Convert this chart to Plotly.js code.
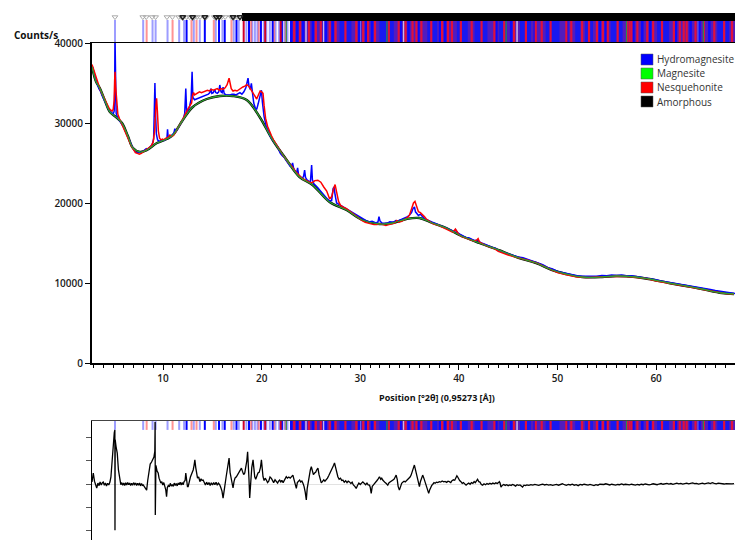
<!DOCTYPE html>
<html><head><meta charset="utf-8">
<script src="https://cdn.plot.ly/plotly-3.0.1.min.js"></script>
<style>html,body{margin:0;padding:0;background:#fff}#chart{width:735px;height:540px}</style>
</head><body><div id="chart"></div>
<script>
// ---------- data ----------
const backgroundPts = [[2.80,37000],[3.20,35200],[3.61,34300],[4.12,32750],[4.62,31375],[5.23,30750],[5.84,30000],[6.44,28375],[6.95,26875],[7.66,26375],[8.37,26625],[9.38,27500],[10.39,28000],[11.00,28500],[12.01,30375],[13.02,32000],[14.44,33000],[15.76,33375],[17.07,33375],[18.49,32875],[19.80,30750],[21.12,27875],[22.54,25375],[23.85,23250],[25.17,22250],[26.89,20125],[28.61,19125],[30.23,17875],[31.95,17375],[33.27,17500],[34.68,18000],[36.00,18125],[37.31,17500],[38.73,16875],[40.05,16000],[42.07,15000],[43.79,14250],[44.40,13950],[46.12,13125],[47.84,12500],[49.46,11625],[50.88,11125],[52.50,10750],[54.52,10750],[55.94,10875],[57.96,10750],[59.28,10500],[61.30,10000],[63.02,9625],[64.64,9250],[66.67,8750],[67.90,8625]];

const hydroPts = [[2.80,37100],[2.90,36800],[3.05,36100],[3.20,35300],[3.35,34800],[3.50,34300],[3.65,34000],[3.80,33500],[3.95,33100],[4.10,32800],[4.25,32400],[4.40,31900],[4.55,31600],[4.70,31400],[4.85,31200],[4.95,31100],[5.05,31500],[5.10,34000],[5.13,41000],[5.17,34000],[5.25,31200],[5.40,30700],[5.55,30400],[5.70,30100],[5.85,29900],[6.00,29500],[6.20,28900],[6.40,28300],[6.60,27700],[6.80,27100],[7.00,26700],[7.20,26400],[7.40,26250],[7.60,26350],[7.80,26300],[8.00,26450],[8.15,26700],[8.30,26800],[8.45,26700],[8.60,26900],[8.75,27000],[8.90,27300],[9.05,28000],[9.12,30500],[9.18,35000],[9.25,31000],[9.33,28600],[9.45,27900],[9.60,27700],[9.80,27800],[9.95,27900],[10.10,27800],[10.30,28000],[10.40,28100],[10.46,29200],[10.52,28300],[10.70,28200],[10.90,28400],[11.10,28700],[11.20,29300],[11.30,28900],[11.50,29300],[11.70,29700],[11.90,30100],[12.05,30500],[12.20,31200],[12.31,34300],[12.40,31300],[12.55,31600],[12.70,32100],[12.85,33000],[12.95,36400],[13.03,33200],[13.20,32900],[13.40,33000],[13.60,33100],[13.80,33200],[14.00,33300],[14.20,33350],[14.40,33500],[14.60,33600],[14.75,33800],[14.85,34300],[14.95,33700],[15.10,33800],[15.25,34200],[15.35,33800],[15.50,33700],[15.65,33900],[15.76,34750],[15.88,33900],[16.00,33800],[16.09,34500],[16.20,33700],[16.40,33500],[16.60,33500],[16.80,33500],[17.00,33600],[17.20,33600],[17.40,33500],[17.60,33700],[17.80,33800],[18.00,33600],[18.20,33900],[18.40,34400],[18.52,35000],[18.62,35600],[18.72,34600],[18.85,34200],[18.96,34950],[19.08,33300],[19.20,32500],[19.35,31900],[19.50,31700],[19.65,32400],[19.80,33300],[19.90,33700],[19.98,34100],[20.08,32600],[20.25,30800],[20.45,29700],[20.65,29000],[20.85,28400],[21.05,28000],[21.25,27600],[21.45,27300],[21.60,27100],[21.75,26600],[21.90,26200],[22.10,25900],[22.30,25700],[22.50,25300],[22.70,25000],[22.90,24600],[23.05,24700],[23.14,25000],[23.25,24300],[23.40,23900],[23.55,23800],[23.65,24400],[23.75,23500],[23.95,23200],[24.10,23100],[24.25,23300],[24.36,24100],[24.45,23200],[24.60,22900],[24.80,22700],[24.95,22700],[25.07,24750],[25.15,22900],[25.30,22400],[25.50,22200],[25.70,21900],[25.90,21600],[26.10,21300],[26.30,21000],[26.50,20700],[26.70,20450],[26.90,20250],[27.10,20300],[27.25,21800],[27.35,22000],[27.45,21000],[27.60,20000],[27.80,19850],[28.00,19700],[28.20,19550],[28.40,19400],[28.60,19250],[28.80,19100],[29.00,18950],[29.20,18800],[29.40,18650],[29.60,18500],[29.80,18350],[30.00,18200],[30.20,18000],[30.40,17850],[30.60,17800],[30.80,17700],[31.00,17650],[31.20,17700],[31.40,17550],[31.60,17500],[31.80,17650],[31.90,18300],[32.00,17750],[32.20,17500],[32.40,17450],[32.60,17450],[32.80,17500],[33.00,17650],[33.20,17600],[33.40,17600],[33.60,17800],[33.80,17700],[34.00,17850],[34.20,17950],[34.40,18000],[34.60,18150],[34.80,18300],[35.00,18500],[35.20,18800],[35.35,19300],[35.50,19500],[35.60,18900],[35.75,18600],[35.90,18450],[36.10,18600],[36.30,18300],[36.50,18050],[36.70,17950],[36.90,17800],[37.10,17700],[37.30,17600],[37.50,17500],[37.70,17400],[37.90,17300],[38.10,17200],[38.30,17150],[38.50,17050],[38.70,16950],[38.90,16850],[39.10,16700],[39.30,16550],[39.50,16450],[39.70,16600],[39.90,16250],[40.10,16100],[40.40,15900],[40.70,15700],[41.00,15650],[41.30,15450],[41.60,15300],[41.90,15350],[42.20,15050],[42.50,14900],[42.80,14700],[43.10,14600],[43.40,14450],[43.70,14350],[44.00,14050],[44.50,13850],[45.00,13600],[45.50,13450],[46.00,13250],[46.50,13150],[47.00,12950],[47.50,12750],[48.00,12550],[48.50,12300],[49.00,11950],[49.50,11750],[50.00,11450],[50.50,11300],[51.00,11150],[51.50,11000],[52.00,10900],[52.50,10850],[53.00,10850],[53.50,10900],[54.00,10850],[54.50,10950],[55.00,10900],[55.50,11000],[56.00,10950],[56.50,11000],[57.00,10900],[57.50,10900],[58.00,10800],[58.50,10750],[59.00,10650],[59.50,10550],[60.00,10400],[60.50,10250],[61.00,10150],[61.50,10050],[62.00,9950],[62.50,9850],[63.00,9750],[63.50,9650],[64.00,9500],[64.50,9400],[65.00,9300],[65.50,9200],[66.00,9050],[66.50,8950],[67.00,8850],[67.50,8750],[68.00,8700]];

const nesqPts = [[2.80,37300],[2.90,36900],[3.05,36300],[3.20,35600],[3.35,35000],[3.50,34500],[3.65,34100],[3.80,33700],[3.95,33300],[4.10,32900],[4.25,32500],[4.40,32100],[4.55,31800],[4.70,31600],[4.85,31500],[4.95,31700],[5.05,32800],[5.10,35400],[5.14,36400],[5.20,34500],[5.30,32200],[5.42,31100],[5.60,30500],[5.80,29900],[6.00,29400],[6.20,28800],[6.40,28200],[6.60,27600],[6.80,27100],[7.00,26700],[7.20,26300],[7.40,26200],[7.60,26100],[7.80,26200],[8.00,26400],[8.20,26600],[8.40,26700],[8.60,26900],[8.80,27100],[9.00,27600],[9.15,29000],[9.27,32000],[9.35,33100],[9.43,31500],[9.53,29000],[9.65,28100],[9.80,27900],[9.95,28000],[10.10,27900],[10.30,28100],[10.50,28200],[10.70,28500],[10.90,28300],[11.10,28500],[11.30,28900],[11.50,29300],[11.70,29800],[11.90,30200],[12.10,30700],[12.30,31300],[12.50,31700],[12.70,32100],[12.90,32500],[13.00,33500],[13.10,33800],[13.20,33500],[13.35,33600],[13.50,33700],[13.70,33900],[13.90,33800],[14.10,33900],[14.30,34000],[14.50,34100],[14.70,34000],[14.90,34200],[15.10,34100],[15.30,34200],[15.50,34300],[15.70,34100],[15.90,34300],[16.10,34200],[16.30,34400],[16.50,34800],[16.62,35400],[16.70,35600],[16.80,35000],[16.92,34300],[17.10,34000],[17.30,34100],[17.50,34000],[17.70,34200],[17.90,34300],[18.10,34500],[18.30,34600],[18.50,34800],[18.70,34600],[18.90,34200],[19.10,33800],[19.30,33300],[19.50,33000],[19.70,33600],[19.85,34000],[20.00,33900],[20.14,33700],[20.25,32200],[20.40,30600],[20.60,29600],[20.80,28900],[21.00,28400],[21.20,27900],[21.40,27500],[21.60,27000],[21.80,26600],[22.00,26200],[22.20,25900],[22.40,25600],[22.60,25200],[22.80,24900],[23.00,24700],[23.20,24300],[23.40,24000],[23.60,23700],[23.80,23400],[24.00,23200],[24.20,23000],[24.40,22900],[24.60,22800],[24.80,22600],[25.00,22500],[25.20,22600],[25.40,22800],[25.70,22850],[26.00,22600],[26.30,22000],[26.60,21500],[26.90,20500],[27.10,20800],[27.30,21800],[27.45,22300],[27.60,21400],[27.80,20200],[28.00,19700],[28.20,19500],[28.40,19400],[28.60,19300],[28.80,19100],[29.00,18900],[29.30,18600],[29.60,18300],[29.90,18000],[30.20,17800],[30.50,17600],[30.80,17500],[31.10,17400],[31.40,17300],[31.70,17300],[32.00,17400],[32.30,17300],[32.60,17200],[32.90,17300],[33.20,17400],[33.50,17500],[33.70,17800],[33.90,17600],[34.20,17700],[34.50,17900],[34.80,18200],[35.00,18500],[35.20,19200],[35.40,20000],[35.55,20200],[35.70,19600],[35.90,18900],[36.10,18800],[36.30,18600],[36.50,18300],[36.70,18000],[37.00,17700],[37.30,17450],[37.60,17300],[37.90,17250],[38.20,17050],[38.50,16900],[38.80,16750],[39.10,16550],[39.40,16350],[39.65,16750],[39.80,16450],[40.00,16050],[40.30,15800],[40.60,15650],[40.90,15500],[41.20,15350],[41.50,15250],[41.80,15350],[41.95,15550],[42.10,15100],[42.40,14850],[42.70,14700],[43.00,14550],[43.30,14450],[43.60,14300],[44.00,13950],[45.00,13500],[46.00,13150],[47.00,12850],[48.00,12450],[49.00,11850],[50.00,11300],[51.00,11000],[52.00,10750],[53.00,10700],[54.00,10750],[55.00,10800],[56.00,10850],[57.00,10800],[58.00,10700],[59.00,10550],[60.00,10250],[61.00,10000],[62.00,9800],[63.00,9600],[64.00,9350],[65.00,9100],[66.00,8900],[67.00,8700],[67.90,8580]];

const diffPts = [[2.80,85],[2.93,470],[3.05,120],[3.15,-60],[3.28,-170],[3.40,40],[3.52,-70],[3.62,90],[3.74,-40],[3.85,60],[3.94,85],[4.05,-50],[4.16,40],[4.27,-80],[4.38,30],[4.50,-40],[4.62,85],[4.72,300],[4.80,800],[4.89,1450],[4.98,1900],[5.06,2200],[5.12,2310],[5.13,-1970],[5.15,1900],[5.24,1600],[5.36,1320],[5.48,600],[5.58,250],[5.63,170],[5.72,-30],[5.82,60],[5.92,-50],[6.02,40],[6.12,-60],[6.22,50],[6.32,-40],[6.42,60],[6.52,-30],[6.62,40],[6.72,-60],[6.82,30],[6.92,-50],[7.02,60],[7.12,-20],[7.22,40],[7.32,-60],[7.42,30],[7.52,-50],[7.62,40],[7.72,-80],[7.82,20],[7.92,-60],[7.99,-40],[8.10,-120],[8.22,-200],[8.34,-260],[8.45,150],[8.58,600],[8.70,850],[8.84,940],[8.96,1050],[9.08,1150],[9.17,1400],[9.20,2650],[9.22,-1320],[9.28,800],[9.40,550],[9.51,470],[9.60,250],[9.68,170],[9.78,40],[9.88,100],[9.98,-40],[10.08,60],[10.18,-100],[10.28,-250],[10.36,-540],[10.44,-150],[10.54,-60],[10.64,-120],[10.74,30],[10.84,-90],[10.94,-20],[11.04,-100],[11.14,40],[11.24,-60],[11.34,20],[11.44,-80],[11.54,40],[11.64,-30],[11.74,80],[11.84,-40],[11.94,60],[12.04,-30],[12.14,100],[12.24,150],[12.31,470],[12.40,60],[12.48,-110],[12.55,-110],[12.65,100],[12.78,300],[12.92,450],[13.06,600],[13.15,800],[13.23,1030],[13.32,700],[13.40,385],[13.50,250],[13.62,300],[13.74,100],[13.86,220],[13.96,150],[14.07,170],[14.18,60],[14.30,-40],[14.42,80],[14.54,-30],[14.66,60],[14.78,-60],[14.90,50],[15.02,-40],[15.14,60],[15.26,-30],[15.38,70],[15.50,-50],[15.62,40],[15.74,-20],[15.86,-150],[15.98,-300],[16.09,-600],[16.18,-200],[16.26,-110],[16.40,300],[16.55,700],[16.62,900],[16.70,1110],[16.80,500],[16.94,100],[17.02,50],[17.10,-170],[17.20,100],[17.30,250],[17.44,310],[17.55,400],[17.68,450],[17.80,550],[17.95,680],[18.05,550],[18.18,400],[18.29,470],[18.40,700],[18.50,1000],[18.58,1380],[18.66,900],[18.72,200],[18.79,-600],[18.88,200],[19.00,700],[19.13,1030],[19.22,600],[19.30,310],[19.40,200],[19.50,350],[19.63,470],[19.75,500],[19.88,700],[19.98,1030],[20.06,600],[20.14,310],[20.25,150],[20.36,250],[20.48,170],[20.60,60],[20.72,120],[20.85,300],[20.99,240],[21.10,120],[21.22,60],[21.36,180],[21.49,100],[21.62,40],[21.72,120],[21.83,170],[21.95,90],[22.05,160],[22.18,60],[22.30,140],[22.40,200],[22.50,310],[22.62,250],[22.76,300],[22.90,250],[23.05,320],[23.17,380],[23.28,200],[23.40,40],[23.52,-190],[23.62,60],[23.74,120],[23.85,170],[23.96,90],[24.08,130],[24.18,40],[24.30,-100],[24.42,-350],[24.53,-680],[24.62,-200],[24.72,100],[24.84,400],[24.94,600],[25.04,740],[25.14,550],[25.25,400],[25.37,470],[25.48,500],[25.58,600],[25.71,680],[25.82,400],[25.93,150],[26.05,50],[26.16,100],[26.30,180],[26.42,120],[26.55,170],[26.68,250],[26.80,350],[26.92,450],[27.05,550],[27.18,650],[27.30,800],[27.39,900],[27.48,700],[27.60,450],[27.73,310],[27.86,200],[28.00,250],[28.12,150],[28.24,170],[28.38,80],[28.52,140],[28.66,60],[28.78,120],[28.91,90],[29.05,20],[29.18,80],[29.30,-40],[29.45,-100],[29.59,-190],[29.72,-60],[29.86,40],[30.00,-20],[30.13,60],[30.26,90],[30.40,30],[30.55,-30],[30.68,40],[30.80,-40],[30.94,-50],[31.02,-150],[31.11,-400],[31.22,-100],[31.34,-40],[31.44,30],[31.56,100],[31.70,150],[31.82,220],[31.95,310],[32.08,200],[32.18,250],[32.28,170],[32.40,100],[32.52,60],[32.64,20],[32.79,-50],[32.92,60],[33.05,100],[33.18,130],[33.30,170],[33.42,200],[33.52,280],[33.64,380],[33.75,200],[33.84,-100],[33.97,-260],[34.08,-100],[34.20,30],[34.31,80],[34.44,120],[34.56,90],[34.70,150],[34.81,170],[34.94,250],[35.05,300],[35.16,380],[35.28,500],[35.40,700],[35.49,810],[35.58,650],[35.66,530],[35.76,250],[35.86,60],[36.00,-110],[36.10,100],[36.22,250],[36.33,380],[36.45,250],[36.52,150],[36.60,100],[36.70,-50],[36.80,-200],[36.94,-400],[37.04,-250],[37.16,-100],[37.25,-60],[37.34,-20],[37.48,60],[37.60,30],[37.72,80],[37.86,60],[38.02,100],[38.16,80],[38.30,130],[38.46,90],[38.60,110],[38.76,70],[38.90,120],[39.03,100],[39.18,60],[39.30,140],[39.45,180],[39.58,160],[39.71,240],[39.80,350],[39.87,310],[39.96,200],[40.08,150],[40.21,100],[40.34,30],[40.46,60],[40.60,-20],[40.73,-50],[40.86,0],[41.00,40],[41.14,-10],[41.28,60],[41.42,30],[41.55,110],[41.66,60],[41.78,150],[41.90,200],[42.02,100],[42.14,80],[42.28,-20],[42.41,-50],[42.55,10],[42.70,-30],[42.85,20],[43.00,-10],[43.15,30],[43.30,0],[43.45,40],[43.60,10],[43.75,50],[43.90,20],[44.02,60],[44.10,100],[44.18,40],[44.27,-130],[44.40,-60],[44.55,-20],[44.70,-60],[44.85,-30],[45.00,-70],[45.15,-40],[45.30,-60],[45.45,-20],[45.60,-50],[45.75,-90],[45.90,-30],[46.05,-60],[46.20,-40],[46.35,-80],[46.46,-130],[46.60,-50],[46.75,-70],[46.90,-40],[47.10,-60],[47.30,-30],[47.50,-50],[47.70,-20],[47.90,-40],[48.10,-60],[48.30,-30],[48.50,-10],[48.70,-40],[48.90,-20],[49.10,-50],[49.30,-30],[49.50,-60],[49.70,-40],[49.90,-20],[50.10,-50],[50.30,-30],[50.50,10],[50.70,-30],[50.90,-60],[51.10,-20],[51.30,-40],[51.50,-10],[51.70,-50],[51.90,-30],[52.10,-70],[52.30,-20],[52.50,-40],[52.70,-10],[52.90,-30],[53.10,-50],[53.30,-20],[53.50,-40],[53.70,-70],[53.90,-30],[54.10,-50],[54.30,-10],[54.50,-30],[54.70,-20],[54.90,10],[55.10,-20],[55.30,-40],[55.50,-10],[55.70,-30],[55.90,-50],[56.10,-20],[56.30,-30],[56.50,0],[56.70,-30],[56.90,-10],[57.10,-20],[57.30,-40],[57.50,-10],[57.70,-30],[57.90,-50],[58.10,-20],[58.30,-40],[58.50,-10],[58.70,-30],[58.90,0],[59.10,-20],[59.30,-40],[59.50,-20],[59.70,10],[59.90,-10],[60.10,-30],[60.30,0],[60.50,20],[60.70,-10],[60.90,10],[61.10,30],[61.30,0],[61.50,20],[61.70,-10],[61.90,10],[62.10,40],[62.30,10],[62.50,30],[62.70,0],[62.90,20],[63.10,40],[63.30,10],[63.50,30],[63.70,50],[63.90,20],[64.10,30],[64.30,0],[64.50,20],[64.70,40],[64.90,10],[65.10,30],[65.30,50],[65.50,20],[65.70,60],[65.90,30],[66.10,10],[66.30,40],[66.50,20],[66.70,30],[66.90,0],[67.10,20],[67.30,10],[67.50,30],[67.70,10],[67.90,20]];

// reference peak positions (°2θ)
const hydroTicks = [5.13,7.99,8.94,9.25,10.46,11.64,12.14,13.12,13.73,15.35,16.03,17.17,17.68,18.46,19.05,19.32,19.58,20.22,20.47,20.83,21.41,21.77,22.31,22.62];
const hydroStrong = [12.39,14.24,15.68,16.26,17.45,18.72,19.93,21.12,22.06];
const nesqTicks = [8.34,10.97,12.89,13.40,15.15,16.94,18.93,19.71,21.27,22.44];
const nesqStrong = [18.18,20.36,21.93];
const magTicks = [22.5,32.7,44.8,57.0,64.8];
const denseRange = [22.9,68.5];
const hydroBlocks = [[27.9,29.1],[31.95,33.4],[36.8,37.8],[39.8,40.9],[41.6,42.9],[44.1,44.9],[46.2,47.3],[48.8,50.2],[51.8,52.3],[52.8,53.6],[55.4,56.6],[60.1,61.3],[66.2,67.4]];
const nesqDense = [23.3,23.9,24.8,25.5,26.0,26.9,27.5,28.5,29.6,30.3,30.8,31.5,32.9,33.9,34.6,35.3,35.7,36.2,37.2,38.3,38.9,39.3,40.2,41.3,42.3,43.6,44.6,45.6,46.8,47.8,48.4,49.3,50.9,51.4,52.5,53.2,54.0,54.6,55.1,56.1,57.05,57.3,57.5,58.1,59.1,59.7,60.6,61.8,62.4,62.8,63.1,64.0,64.85,65.9,66.9,67.7];
const hydroDense = [23.0,23.6,24.2,25.2,26.5,27.2,29.9,30.6,31.2,34.1,34.9,35.9,38.1,38.6,43.8,45.3,47.7,51.0,54.3,54.9,57.7,58.6,59.4,62.0,63.5,64.4,65.4];
const paleTicks = [24.5,26.3,30.0,34.4,45.9,51.0,64.3];
const amorphRange = [18.0,68.5];
const refMarks = [5.13,7.95,8.3,8.9,9.25,10.4,10.95,11.6,11.85,12.4,12.7,12.95,13.2,13.45,13.75,14.4,15.2,15.95,16.3,16.9,17.25,17.5];
const amorphMarks = [12.0,13.0,14.24,15.4,15.7,17.1,17.8];

const yTicks = [0,10000,20000,30000,40000];
const diffTicks = [-2000,-1000,0,1000,2000];
const legendNames = ['Hydromagnesite','Magnesite','Nesquehonite','Amorphous'];
const legendColors = ['#0000ff','#00ff00','#ff0000','#000000'];
const xTitle = 'Position [°2θ] (0,95273 [Å])';
const yTitle = 'Counts/s';

// ---------- helpers ----------
const X = a => a.map(p => p[0]);
const Y = a => a.map(p => p[1]);
function segs(pos, y0, y1){const x=[],y=[];pos.forEach(p=>{x.push(p,p,null);y.push(y0,y1,null);});return {x,y};}
function rects(list, y0, y1){const x=[],y=[];list.forEach(r=>{x.push(r[0],r[1],r[1],r[0],r[0],null);y.push(y0,y0,y1,y1,y0,null);});return {x,y};}
const FONT = 'Open Sans, Noto Sans, sans-serif';

const traces = [];
// main curves
traces.push({x:X(backgroundPts),y:Y(backgroundPts),mode:'lines',line:{color:'#000',width:2.4,shape:'spline'},xaxis:'x',yaxis:'y'});
traces.push({x:X(hydroPts),y:Y(hydroPts),mode:'lines',line:{color:'#0000ff',width:1.5},xaxis:'x',yaxis:'y'});
traces.push({x:X(nesqPts),y:Y(nesqPts),mode:'lines',line:{color:'#ff0000',width:1.5},xaxis:'x',yaxis:'y'});
traces.push({x:X(backgroundPts),y:Y(backgroundPts),mode:'lines',line:{color:'#2ea12e',width:1.3,shape:'spline'},xaxis:'x',yaxis:'y'});

// reference-line bands
function addBand(xa, ya, y0, y1){
  const d = rects([denseRange], y0, y1);
  traces.push({x:d.x,y:d.y,fill:'toself',mode:'none',fillcolor:'#521cbe',xaxis:xa,yaxis:ya});
  const b = rects(hydroBlocks, y0, y1);
  traces.push({x:b.x,y:b.y,fill:'toself',mode:'none',fillcolor:'#1818f0',xaxis:xa,yaxis:ya});
  const add = (pos,color,w)=>{const s=segs(pos,y0,y1);traces.push({x:s.x,y:s.y,mode:'lines',line:{color:color,width:w},xaxis:xa,yaxis:ya});};
  add(hydroTicks,'rgba(60,60,255,0.5)',2);
  add(nesqTicks,'rgba(255,40,40,0.5)',2);
  add(hydroStrong,'#0000ff',2);
  add(nesqStrong,'#d0002a',2);
  add(paleTicks,'rgba(205,195,240,0.95)',1.5);
  add(hydroDense,'#0a0aff',2.5);
  add(nesqDense,'#e0103c',2.2);
  add(magTicks,'#2a8a50',1.2);
}
addBand('x2','y2',0,0.76);
addBand('x3','y3',2310,2690);

// amorphous band and marks on top
const am = rects([amorphRange],0.72,1.0);
traces.push({x:am.x,y:am.y,fill:'toself',mode:'none',fillcolor:'#000',xaxis:'x2',yaxis:'y2'});
traces.push({x:refMarks,y:refMarks.map(()=>0.86),mode:'markers',marker:{symbol:'triangle-down-open',size:5,color:'#aaa',line:{width:1,color:'#aaa'}},xaxis:'x2',yaxis:'y2',cliponaxis:false});
traces.push({x:amorphMarks,y:amorphMarks.map(()=>0.86),mode:'markers',marker:{symbol:'triangle-down-open',size:5,color:'#222',line:{width:1.5,color:'#222'}},xaxis:'x2',yaxis:'y2',cliponaxis:false});

// difference curve
traces.push({x:X(diffPts),y:Y(diffPts),mode:'lines',line:{color:'#000',width:1.3},xaxis:'x3',yaxis:'y3'});

const H=540, L=92, PW=643;
const px2x = p => (p-L)/PW, px2y = p => 1 - p/H;
const tickFont = {family:FONT,size:10,color:'#1a1a1a',weight:600};

const shapes = [], annotations = [];
legendNames.forEach((n,i)=>{
  const cy = 59.5 + i*14;
  shapes.push({type:'rect',xref:'paper',yref:'paper',x0:px2x(641),x1:px2x(653),y0:px2y(cy+5.5),y1:px2y(cy-5.5),fillcolor:legendColors[i],line:{color:'#555',width:0.5}});
  annotations.push({xref:'paper',yref:'paper',x:px2x(655),y:px2y(cy),xanchor:'left',yanchor:'middle',text:n,showarrow:false,font:{family:FONT,size:10,color:'#333'}});
});
annotations.push({xref:'paper',yref:'paper',x:px2x(36),y:px2y(35),xanchor:'center',yanchor:'middle',text:yTitle,showarrow:false,font:{family:FONT,size:10,color:'#111',weight:700}});
annotations.push({xref:'paper',yref:'paper',x:px2x(437),y:px2y(397),xanchor:'center',yanchor:'middle',text:xTitle,showarrow:false,font:{family:FONT,size:9,color:'#111',weight:700}});

const layout = {
  width:735,height:540,margin:{l:92,r:0,t:0,b:0},showlegend:false,
  paper_bgcolor:'#fff',plot_bgcolor:'rgba(0,0,0,0)',hovermode:false,
  xaxis:{domain:[0,1],range:[2.8,68],anchor:'y',showline:true,linecolor:'#000',linewidth:1.5,mirror:true,
    ticks:'outside',ticklen:5,tickwidth:1,tickcolor:'#000',tick0:0,dtick:10,showgrid:false,zeroline:false,
    tickfont:tickFont,minor:{dtick:1,ticks:'outside',ticklen:3,tickcolor:'#000',tickwidth:1,showgrid:false}},
  yaxis:{domain:[px2y(363),px2y(43)],range:[0,40000],anchor:'x',showline:true,linecolor:'#000',linewidth:2,
    ticks:'outside',ticklen:5,tickwidth:1,tickcolor:'#000',tickvals:yTicks,tickformat:'d',showgrid:false,zeroline:false,tickfont:tickFont},
  xaxis2:{domain:[0,1],range:[2.8,68],anchor:'y2',visible:false},
  yaxis2:{domain:[px2y(42),px2y(13)],range:[0,1],anchor:'x2',visible:false},
  xaxis3:{domain:[0,1],range:[2.8,68],anchor:'y3',side:'top',showline:true,linecolor:'#444',linewidth:1,ticks:'',showticklabels:false,showgrid:false,zeroline:false},
  yaxis3:{domain:[0,px2y(421)],range:[-2390,2690],anchor:'x3',showline:true,linecolor:'#000',linewidth:1.5,
    ticks:'outside',ticklen:5,tickwidth:1,tickcolor:'#555',tickvals:diffTicks,showticklabels:false,showgrid:false,
    zeroline:true,zerolinecolor:'#e2e2e2',zerolinewidth:1},
  shapes:shapes,annotations:annotations
};
Plotly.newPlot('chart',traces,layout,{staticPlot:true,displayModeBar:false});
</script></body></html>
